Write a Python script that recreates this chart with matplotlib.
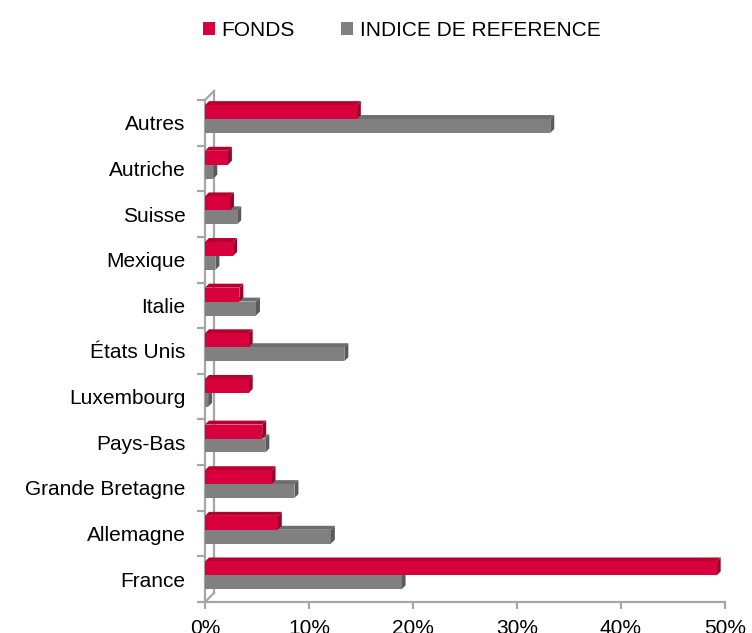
import matplotlib
matplotlib.use("Agg")
import matplotlib.pyplot as plt
from matplotlib.patches import Polygon, Rectangle, Patch
import matplotlib.transforms as mtransforms

plt.rcParams['font.family'] = ['Liberation Sans', 'DejaVu Sans']

categories = ["France", "Allemagne", "Grande Bretagne", "Pays-Bas", "Luxembourg",
              "États Unis", "Italie", "Mexique", "Suisse", "Autriche", "Autres"]
fonds = [49.2, 7.0, 6.4, 5.5, 4.2, 4.2, 3.3, 2.7, 2.4, 2.2, 14.6]
indice = [18.9, 12.1, 8.6, 5.8, 0.3, 13.4, 4.9, 1.0, 3.1, 0.8, 33.2]
series_names = ["FONDS", "INDICE DE REFERENCE"]
xticks = [0, 10, 20, 30, 40, 50]
xticklabels = ["0%", "10%", "20%", "30%", "40%", "50%"]

W, H = 752, 633
fig = plt.figure(figsize=(W / 100, H / 100), dpi=100)
left_px, right_px, top_px, bot_px = 205, 725, 100, 602
ax = fig.add_axes([left_px / W, 1 - bot_px / H, (right_px - left_px) / W, (bot_px - top_px) / H])
ax.set_xlim(0, 50)
ax.set_ylim(-0.5, 10.5)

red_face, red_side, red_top = "#D8003C", "#9E0029", "#B8002F"
gray_face, gray_side, gray_top = "#808080", "#5A5A5A", "#6E6E6E"
axis_col = "#A6A6A6"
fs = 15

# depth of the 3D bars, in data units (about 4 px)
px_x = 50 / (right_px - left_px)
px_y = 11 / (bot_px - top_px)
dx, dy = 4 * px_x, 4 * px_y
h = 0.305

def bar3d(v, c, face, side, top, z):
    y0, y1 = c - h / 2, c + h / 2
    ax.add_patch(Polygon([(0, y1), (v, y1), (v + dx, y1 + dy), (dx, y1 + dy)],
                         closed=True, facecolor=top, edgecolor='none', zorder=z))
    ax.add_patch(Polygon([(v, y0), (v + dx, y0 + dy), (v + dx, y1 + dy), (v, y1)],
                         closed=True, facecolor=side, edgecolor='none', zorder=z))
    ax.add_patch(Rectangle((0, y0), v, h, facecolor=face, edgecolor='none', zorder=z + 0.1))

for i, (f, r) in enumerate(zip(fonds, indice)):
    bar3d(r, i - 0.07, gray_face, gray_side, gray_top, 3)
    bar3d(f, i + 0.235, red_face, red_side, red_top, 4)

# spines
for s in ["top", "right"]:
    ax.spines[s].set_visible(False)
for s in ["left", "bottom"]:
    ax.spines[s].set_color(axis_col)
    ax.spines[s].set_linewidth(1.6)

# back wall lines (3D look)
off = mtransforms.offset_copy(ax.transData, fig=fig, x=9, y=9, units='dots')
ax.plot([0, 0], [-0.5, 10.5], color=axis_col, lw=1.6, transform=off, clip_on=False, zorder=1)
ax.plot([0, 9 * px_x], [-0.5, -0.5 + 9 * px_y], color=axis_col, lw=1.6, clip_on=False, zorder=1)
ax.plot([0, 9 * px_x], [10.5, 10.5 + 9 * px_y], color=axis_col, lw=1.6, clip_on=False, zorder=1)

ax.set_xticks(xticks)
ax.set_xticklabels(xticklabels, fontsize=fs)
ax.set_yticks(range(len(categories)))
ax.set_yticklabels(categories, fontsize=fs)
ax.tick_params(axis='y', length=0, pad=14)
ax.set_yticks([i - 0.5 for i in range(len(categories) + 1)], minor=True)
ax.tick_params(axis='y', which='minor', length=6, width=1.6, color=axis_col)
ax.tick_params(axis='x', length=5, width=1.6, color=axis_col, pad=7)

handles = [Patch(facecolor=red_face, edgecolor='none'), Patch(facecolor=gray_face, edgecolor='none')]
fig.legend(handles, series_names, loc='center', bbox_to_anchor=(0.534, 0.952), ncol=2,
           frameon=False, fontsize=fs, handlelength=0.6, handleheight=0.6,
           handletextpad=0.3, columnspacing=2.2)

fig.savefig("out.png", dpi=100)
